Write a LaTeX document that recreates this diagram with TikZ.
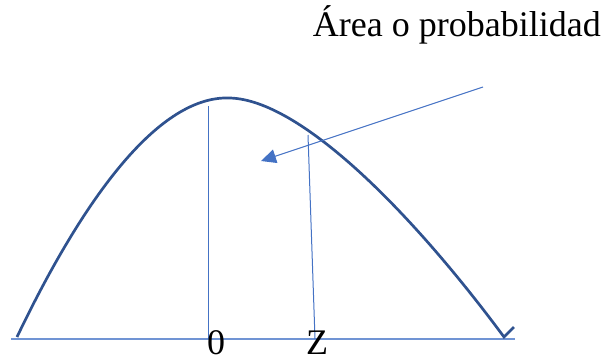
\documentclass[tikz,border=0pt]{standalone}
\usepackage{fontspec}
\setmainfont{Liberation Serif}
\usetikzlibrary{arrows.meta}
\definecolor{curveblue}{HTML}{2F528F}
\definecolor{lineblue}{HTML}{4472C4}
\definecolor{axisblue}{HTML}{7094D4}
\begin{document}
\begin{tikzpicture}[x=1pt,y=-1pt,
  curve/.style={draw=curveblue,line width=2.7pt},
  thin/.style={draw=lineblue,line width=1pt},
  axis/.style={draw=axisblue,line width=1.8pt},
  lbl/.style={font=\fontsize{36}{42}\selectfont,inner sep=0pt}]
\useasboundingbox (0,0) rectangle (604,357);
\coordinate (axL) at (11,339);
\coordinate (axR) at (515,339);
\coordinate (cL) at (17,337);
\coordinate (peak) at (230,98);
\coordinate (cR) at (504,337);
\coordinate (tick) at (514,327);
\coordinate (zeroTop) at (208,106);
\coordinate (zeroBot) at (208,339);
\coordinate (zTop) at (308,135);
\coordinate (zBot) at (315,339);
\coordinate (arS) at (483,87);
\coordinate (arE) at (261,161);
\draw[axis] (axL) -- (axR);
\draw[curve] (cL) .. controls (85,195) and (160,95) .. (peak)
  .. controls (300,100) and (410,210) .. (cR) -- (tick);
\draw[thin] (zeroTop) -- (zeroBot);
\draw[thin] (zTop) -- (zBot);
\draw[thin,-{Triangle[length=15pt,width=14pt]}] (arS) -- (arE);
\node[lbl,anchor=base east] (title) at (601,36) {Área o probabilidad};
\node[lbl,anchor=base] (zero) at (216,354) {0};
\node[lbl,anchor=base] (zlab) at (317,354) {Z};
\end{tikzpicture}
\end{document}
